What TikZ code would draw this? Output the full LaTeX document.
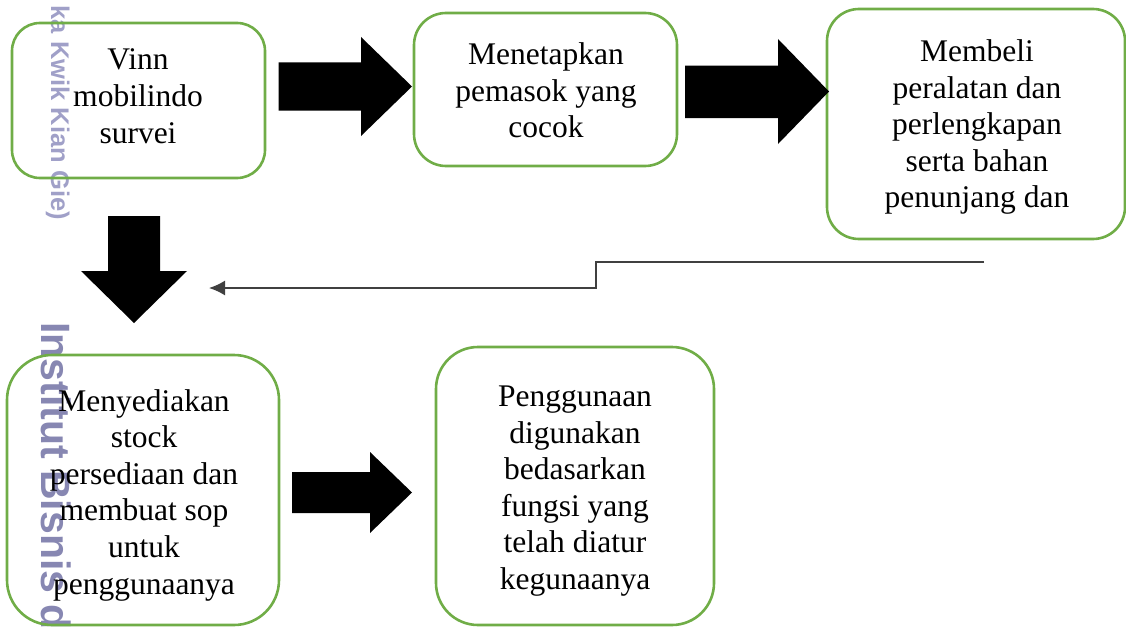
\documentclass[tikz,border=0pt]{standalone}
\usepackage{fontspec}
\setmainfont{Liberation Serif}
\newfontfamily\wmfont{Liberation Sans}
\usetikzlibrary{arrows.meta}
\definecolor{boxgreen}{RGB}{112,173,71}
\definecolor{wmlight}{RGB}{160,160,200}
\definecolor{wmdark}{RGB}{135,135,178}
\definecolor{linegray}{RGB}{64,64,64}
\tikzset{
  procbox/.style={draw=boxgreen, line width=2.6pt, rounded corners=28pt, inner sep=0pt},
  boxtext/.style={align=center, inner sep=0pt, font=\fontsize{31.5}{36.6}\selectfont},
  blockarrow/.style={fill=black, draw=none},
  flowline/.style={draw=linegray, line width=1.5pt, -{Latex[length=16pt,width=15pt]}},
  watermark/.style={inner sep=0pt, rotate=-90, font=\wmfont\bfseries\fontsize{25.5}{28}\selectfont, text=wmlight}
}
\begin{document}
\begin{tikzpicture}[x=1pt,y=-1pt]
\useasboundingbox (0,0) rectangle (1126,626);
\clip (0,0) rectangle (1126,626);
% watermarks
\node[watermark, anchor=base east] (wm1) at (51,220) {ka Kwik Kian Gie)};
\node[watermark, font=\wmfont\bfseries\fontsize{41}{44}\selectfont, text=wmdark, anchor=base west] (wm2) at (41,322) {Institut Bisnis da};
% boxes
\node[procbox, minimum width=253pt, minimum height=155pt] (b1) at (138.5,100.5) {};
\node[procbox, minimum width=263pt, minimum height=153pt, rounded corners=32pt] (b2) at (545.5,89.5) {};
\node[procbox, minimum width=298pt, minimum height=230pt, rounded corners=32pt] (b3) at (976,124) {};
\node[procbox, minimum width=272pt, minimum height=270pt, rounded corners=45pt] (b4) at (143,490) {};
\node[procbox, minimum width=278pt, minimum height=278pt, rounded corners=42pt] (b5) at (575,486) {};
% texts
\node[boxtext] (t1) at (138,99.2) {\strut Vinn\\ mobilindo\\ survei\strut};
\node[boxtext] (t2) at (546,93.7) {\strut Menetapkan\\ pemasok yang\\ cocok\strut};
\node[boxtext] (t3) at (977,127.3) {\strut Membeli\\ peralatan dan\\ perlengkapan\\ serta bahan\\ penunjang dan\strut};
\node[boxtext] (t4) at (144,495.2) {\strut Menyediakan\\ stock\\ persediaan dan\\ membuat sop\\ untuk\\ penggunaanya\strut};
\node[boxtext] (t5) at (575,490.7) {\strut Penggunaan\\ digunakan\\ bedasarkan\\ fungsi yang\\ telah diatur\\ kegunaanya\strut};
% block arrows
\fill[blockarrow] (278.5,62.5) -- (361,62.5) -- (361,37) -- (412,86.5) -- (361,136) -- (361,110.5) -- (278.5,110.5) -- cycle;
\fill[blockarrow] (685,65.5) -- (778,65.5) -- (778,39) -- (829,91.5) -- (778,144) -- (778,118) -- (685,118) -- cycle;
\fill[blockarrow] (108,216) -- (160,216) -- (160,271) -- (187,271) -- (134,323) -- (81,271) -- (108,271) -- cycle;
\fill[blockarrow] (292,472) -- (370,472) -- (370,452) -- (412,492.5) -- (370,533) -- (370,513) -- (292,513) -- cycle;
% thin connector
\coordinate (c1) at (984,262);
\coordinate (c2) at (209,288);
\draw[flowline] (c1) -- (596,262) |- (c2);
\end{tikzpicture}
\end{document}
